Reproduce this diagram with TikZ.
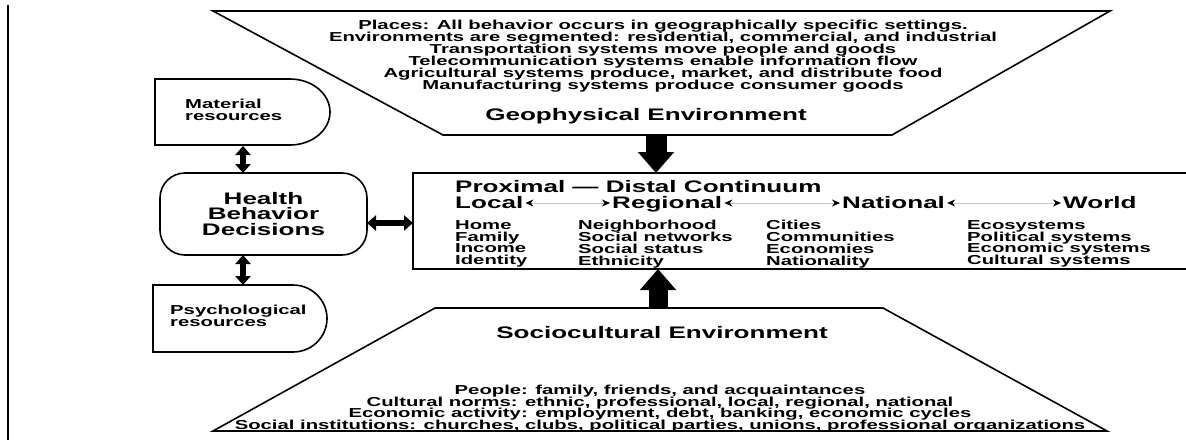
\documentclass[tikz,border=0pt]{standalone}
\usepackage{fontspec}
\newfontfamily\lab{Liberation Sans}[FakeStretch=1.56]
\usetikzlibrary{arrows.meta}
\newcommand\smallfnt{\lab\bfseries\fontsize{13}{11.9}\selectfont\lineskiplimit=-20pt\lineskip=0pt\relax}
\newcommand\bigfnt{\lab\bfseries\fontsize{16.7}{15.5}\selectfont\lineskiplimit=-20pt\lineskip=0pt\relax}
\begin{document}
\begin{tikzpicture}[x=1pt,y=1pt,line join=miter,
  outline/.style={draw=black,line width=1.6pt},
  smalltxt/.style={font=\smallfnt,inner sep=0pt},
  bigtxt/.style={font=\bigfnt,inner sep=0pt},
  blockarrow/.style={line width=#1,draw=black},
  dbl/.style={line width=5.5pt,{Triangle[length=9pt,width=15pt]}-{Triangle[length=9pt,width=15pt]}},
  scalelink/.style={draw=gray!45,line width=0.9pt,{Stealth[length=8pt,width=7pt,black]}-{Stealth[length=8pt,width=7pt,black]}}
]
\useasboundingbox (0,0) rectangle (1186,-440);
\clip (0,0) rectangle (1186,-440);
\fill[white] (0,0) rectangle (1186,-440);

% left rule
\draw[line width=2pt] (8,-5) -- (8,-440);

% geophysical trapezoid
\draw[outline] (213,-11) -- (1110,-11) -- (892,-135) -- (443,-135) -- cycle;
\node[smalltxt,align=center,anchor=north] (geotext) at (663,-20)
 {Places: All behavior occurs in geographically specific settings.\\
  Environments are segmented: residential, commercial, and industrial\\
  Transportation systems move people and goods\\
  Telecommunication systems enable information flow\\
  Agricultural systems produce, market, and distribute food\\
  Manufacturing systems produce consumer goods};
\node[bigtxt,anchor=base] (geotitle) at (646,-120) {Geophysical Environment};

% sociocultural trapezoid
\draw[outline] (435,-308) -- (883,-308) -- (1107,-431) -- (213,-431) -- cycle;
\node[bigtxt,anchor=base] (soctitle) at (662,-338) {Sociocultural Environment};
\node[smalltxt,align=center,anchor=north] (soctext) at (660,-384.5)
 {People: family, friends, and acquaintances\\
  Cultural norms: ethnic, professional, local, regional, national\\
  Economic activity: employment, debt, banking, economic cycles\\
  Social institutions: churches, clubs, political parties, unions, professional organizations};

% main continuum box
\draw[outline] (1200,-173) -- (413,-173) -- (413,-269) -- (1200,-269);
\node[bigtxt,anchor=base west] (pdc) at (455,-192) {Proximal — Distal Continuum};
\node[bigtxt,anchor=base west] (local) at (455,-208) {Local};
\node[bigtxt,anchor=base west] (regional) at (612,-208) {Regional};
\node[bigtxt,anchor=base west] (national) at (842,-208) {National};
\node[bigtxt,anchor=base west] (world) at (1063,-208) {World};
\draw[scalelink] ([xshift=2pt,yshift=5pt]local.base east) -- ([xshift=-2pt,yshift=5pt]regional.base west);
\draw[scalelink] ([xshift=2pt,yshift=5pt]regional.base east) -- ([xshift=-2pt,yshift=5pt]national.base west);
\draw[scalelink] ([xshift=2pt,yshift=5pt]national.base east) -- ([xshift=-2pt,yshift=5pt]world.base west);

\node[smalltxt,align=left,anchor=north west] (col1) at (455,-220) {Home\\Family\\Income\\Identity};
\node[smalltxt,align=left,anchor=north west] (col2) at (578,-220) {Neighborhood\\Social networks\\Social status\\Ethnicity};
\node[smalltxt,align=left,anchor=north west] (col3) at (766,-220) {Cities\\Communities\\Economies\\Nationality};
\node[smalltxt,align=left,anchor=north west] (col4) at (967,-220) {Ecosystems\\Political systems\\Economic systems\\Cultural systems};

% material resources
\draw[outline] (155,-79) -- (290,-79) arc[start angle=90,end angle=-90,x radius=40,y radius=33] -- (155,-145) -- cycle;
\node[smalltxt,align=left,anchor=north west] (mat) at (185,-98.5) {Material\\resources};

% health behavior decisions
\node[draw=black,line width=1.6pt,rounded corners=25pt,minimum width=207pt,minimum height=82pt,
      bigtxt,align=center] (hb) at (263.5,-214) {Health\\Behavior\\Decisions};

% psychological resources
\draw[outline] (153,-285) -- (293,-285) arc[start angle=90,end angle=-90,x radius=34,y radius=33.5] -- (153,-352) -- cycle;
\node[smalltxt,align=left,anchor=north west] (psy) at (170,-304.5) {Psychological\\resources};

% connector end points
\coordinate (geoB) at (656,-135);
\coordinate (boxT) at (656,-173);
\coordinate (socT) at (658,-308);
\coordinate (boxB) at (658,-269);
\coordinate (matB) at (243,-146);
\coordinate (hbT) at (243,-173);
\coordinate (hbB) at (243,-255);
\coordinate (psyT) at (243,-285);
\coordinate (hbR) at (367,-223);
\coordinate (boxL) at (413,-223);

% block arrows
\draw[blockarrow=21pt,-{Triangle[length=21pt,width=35pt]}] (geoB) -- (boxT);
\draw[blockarrow=19pt,-{Triangle[length=21pt,width=35pt]}] (socT) -- (boxB);

% double arrows
\draw[dbl] (matB) -- (hbT);
\draw[dbl] (hbB) -- (psyT);
\draw[dbl] (hbR) -- (boxL);
\end{tikzpicture}
\end{document}
